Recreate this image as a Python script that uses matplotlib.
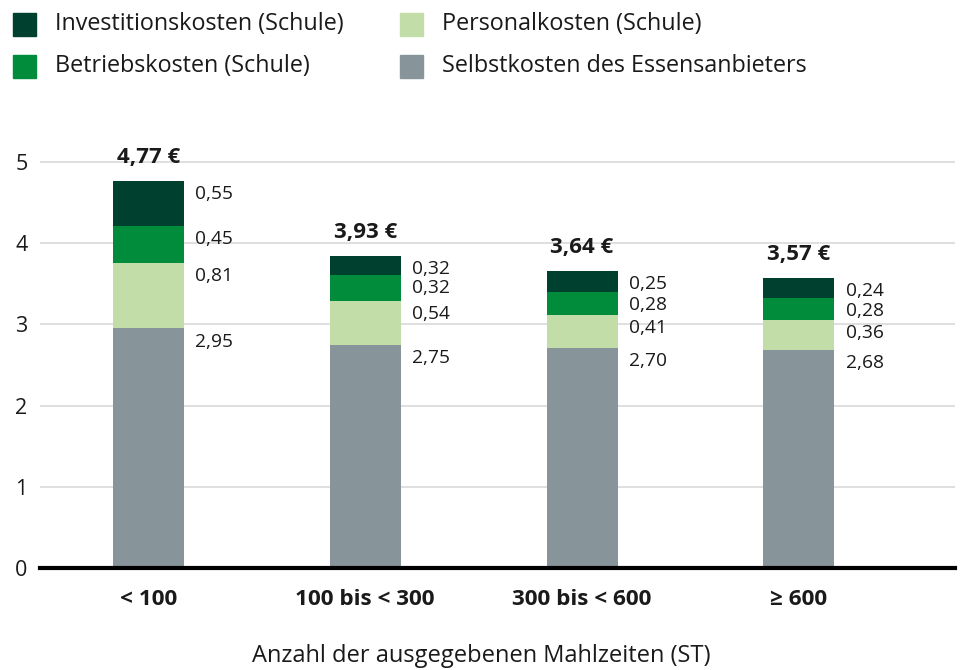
import matplotlib.pyplot as plt
from matplotlib.patches import Rectangle

plt.rcParams['font.family'] = ['Open Sans', 'DejaVu Sans']

# Data
categories = ['< 100', '100 bis < 300', '300 bis < 600', '≥ 600']
selbstkosten = [2.95, 2.75, 2.71, 2.68]
personal = [0.81, 0.54, 0.41, 0.37]
betrieb = [0.45, 0.32, 0.28, 0.28]
invest = [0.56, 0.23, 0.26, 0.24]

lbl_selbst = ['2,95', '2,75', '2,70', '2,68']
lbl_personal = ['0,81', '0,54', '0,41', '0,36']
lbl_betrieb = ['0,45', '0,32', '0,28', '0,28']
lbl_invest = ['0,55', '0,32', '0,25', '0,24']
totals = ['4,77 €', '3,93 €', '3,64 €', '3,57 €']

series_names = ['Selbstkosten des Essensanbieters', 'Personalkosten (Schule)',
                'Betriebskosten (Schule)', 'Investitionskosten (Schule)']
colors = ['#87949a', '#c2dda8', '#008c3a', '#00402f']

fig = plt.figure(figsize=(9.62, 6.70), dpi=100)
ax = fig.add_axes([40 / 962, 102 / 670, 915 / 962, (568 - 121.4) / 670])

x = list(range(len(categories)))
width = 0.328
bottom = [0.0] * len(x)
series = [selbstkosten, personal, betrieb, invest]
labels = [lbl_selbst, lbl_personal, lbl_betrieb, lbl_invest]
for vals, lbls, col in zip(series, labels, colors):
    ax.bar(x, vals, width, bottom=bottom, color=col, zorder=3)
    for i in x:
        top = bottom[i] + vals[i]
        ax.annotate(lbls[i], (i + width / 2, top), xytext=(8, -9.4),
                    textcoords='offset points', va='center', ha='left',
                    fontsize=13.8, color='#1a1a1a')
    bottom = [b + v for b, v in zip(bottom, vals)]

for i in x:
    ax.annotate(totals[i], (i, bottom[i]), xytext=(0, 17), textcoords='offset points',
                ha='center', va='center', fontsize=16, fontweight='bold', color='#1a1a1a')

ax.set_xlim(-0.5, 3.72)
ax.set_ylim(0, 5.5)
ax.set_yticks([0, 1, 2, 3, 4, 5])
ax.set_xticks(x)
ax.set_xticklabels(categories, fontweight='bold', fontsize=16.2, color='#1a1a1a')
ax.tick_params(axis='both', length=0)
ax.tick_params(axis='y', labelsize=15.5, pad=9, labelcolor='#1a1a1a')
ax.tick_params(axis='x', pad=15)
ax.grid(axis='y', color='#d9d9d9', linewidth=1.2, zorder=0)
for s in ['top', 'right', 'left']:
    ax.spines[s].set_visible(False)
ax.spines['bottom'].set_linewidth(3)
ax.spines['bottom'].set_zorder(4)

fig.text(481 / 962, 1 - 656 / 670, 'Anzahl der ausgegebenen Mahlzeiten (ST)',
         ha='center', va='center', fontsize=17, color='#1a1a1a')

# legend drawn by hand
legend_items = [
    (series_names[3], colors[3], 13, 24),
    (series_names[2], colors[2], 13, 66),
    (series_names[1], colors[1], 400, 24),
    (series_names[0], colors[0], 400, 66),
]
for name, col, px, py in legend_items:
    fig.patches.append(Rectangle((px / 962, 1 - (py + 11.5) / 670), 23 / 962, 23 / 670,
                                 transform=fig.transFigure, color=col))
    fig.text((px + 42) / 962, 1 - py / 670, name, ha='left', va='center',
             fontsize=16.8, color='#1a1a1a')

fig.savefig('out.png', dpi=100)
